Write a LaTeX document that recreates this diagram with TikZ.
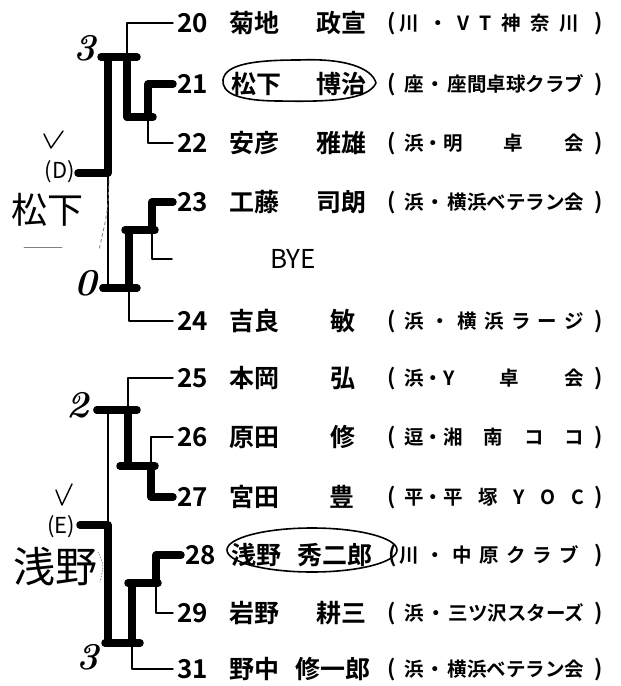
\documentclass[tikz,border=0pt]{standalone}
\usepackage{fontspec}
\newfontfamily\jpb{Noto Sans CJK JP Bold}
\newfontfamily\jpr{Noto Sans CJK JP}
\newcommand{\club}[1]{\makebox[180pt][l]{#1}}

\begin{document}
\begin{tikzpicture}[line cap=round,line join=round,x=1pt,y=-1pt,
	numtext/.style={anchor=base west,inner xsep=4pt,inner ysep=0pt,font=\jpb\fontsize{26}{26}\selectfont},
	nametext/.style={inner sep=0pt,font=\jpb\fontsize{25}{25}\selectfont},
	clubtext/.style={anchor=base west,inner sep=0pt,font=\jpb\fontsize{19.5}{19.5}\selectfont},
	parentext/.style={anchor=base,inner sep=0pt,font=\jpb\fontsize{22}{22}\selectfont},
	handtext/.style={inner sep=0pt,font=\bfseries\itshape\fontsize{38}{38}\selectfont},
	losebar/.style={line width=1.4pt},
	winbar/.style={line width=7.5pt}]
		\useasboundingbox (0,0) rectangle (621,686);
		% entries
		\node[numtext] (n20) at (173,32.5) {20};
		\node[nametext,anchor=base west] (s20) at (229,32.5) {菊地};
		\node[nametext,anchor=base east] (g20) at (367,32.5) {政宣};
		\node[parentext] (l20) at (392,30) {(};
		\node[clubtext] (c20) at (399,30) {\club{川\hfill・\hfill V\hfill T\hfill 神\hfill 奈\hfill 川}};
		\node[parentext] (r20) at (599,30) {)};
		\node[numtext] (n21) at (173,93.5) {21};
		\node[nametext,anchor=base west] (s21) at (231,93.5) {松下};
		\node[nametext,anchor=base east] (g21) at (367,93.5) {博治};
		\node[parentext] (l21) at (392,91) {(};
		\node[clubtext] (c21) at (404,91) {\club{座\hfill・\hfill 座間卓球クラブ}};
		\node[parentext] (r21) at (599,91) {)};
		\node[numtext] (n22) at (173,152.5) {22};
		\node[nametext,anchor=base west] (s22) at (229,152.5) {安彦};
		\node[nametext,anchor=base east] (g22) at (367,152.5) {雅雄};
		\node[parentext] (l22) at (392,150) {(};
		\node[clubtext] (c22) at (404,150) {\club{浜・明\hfill 卓\hfill 会}};
		\node[parentext] (r22) at (599,150) {)};
		\node[numtext] (n23) at (173,211.5) {23};
		\node[nametext,anchor=base west] (s23) at (229,211.5) {工藤};
		\node[nametext,anchor=base east] (g23) at (367,211.5) {司朗};
		\node[parentext] (l23) at (392,209) {(};
		\node[clubtext] (c23) at (404,209) {\club{浜\hfill・\hfill 横浜ベテラン会}};
		\node[parentext] (r23) at (599,209) {)};
		\node[anchor=base west,inner sep=0pt,font=\jpr\fontsize{26}{26}\selectfont] (bye) at (270,268.5) {BYE};
		\coordinate (nbye) at (172,259);
		\node[numtext] (n24) at (173,330.5) {24};
		\node[nametext,anchor=base west] (s24) at (229,330.5) {吉良};
		\node[nametext,anchor=base] (g24) at (343,330.5) {敏};
		\node[parentext] (l24) at (392,328) {(};
		\node[clubtext] (c24) at (404,328) {\club{浜\hfill・\hfill 横\hfill 浜\hfill ラ\hfill ー\hfill ジ}};
		\node[parentext] (r24) at (599,328) {)};
		\node[numtext] (n25) at (173,387.5) {25};
		\node[nametext,anchor=base west] (s25) at (229,387.5) {本岡};
		\node[nametext,anchor=base] (g25) at (343,387.5) {弘};
		\node[parentext] (l25) at (392,385) {(};
		\node[clubtext] (c25) at (404,385) {\club{浜・Y\hfill 卓\hfill 会}};
		\node[parentext] (r25) at (599,385) {)};
		\node[numtext] (n26) at (173,446.5) {26};
		\node[nametext,anchor=base west] (s26) at (229,446.5) {原田};
		\node[nametext,anchor=base] (g26) at (343,446.5) {修};
		\node[parentext] (l26) at (392,444) {(};
		\node[clubtext] (c26) at (404,444) {\club{逗・湘\hfill 南\hfill コ\hfill コ}};
		\node[parentext] (r26) at (599,444) {)};
		\node[numtext] (n27) at (173,506.5) {27};
		\node[nametext,anchor=base west] (s27) at (229,506.5) {宮田};
		\node[nametext,anchor=base] (g27) at (342,506.5) {豊};
		\node[parentext] (l27) at (392,504) {(};
		\node[clubtext] (c27) at (404,504) {\club{平・平\hfill 塚\hfill Y\hfill O\hfill C}};
		\node[parentext] (r27) at (599,504) {)};
		\node[numtext] (n28) at (181,564.5) {28};
		\node[nametext,anchor=base west] (s28) at (231,564.5) {浅野};
		\node[nametext,anchor=base east] (g28) at (373,564.5) {秀二郎};
		\node[parentext] (l28) at (393,562) {(};
		\node[clubtext] (c28) at (399,562) {\club{川\hfill・\hfill 中\hfill 原\hfill ク\hfill ラ\hfill ブ}};
		\node[parentext] (r28) at (599,562) {)};
		\node[numtext] (n29) at (173,622.5) {29};
		\node[nametext,anchor=base west] (s29) at (229,622.5) {岩野};
		\node[nametext,anchor=base east] (g29) at (367,622.5) {耕三};
		\node[parentext] (l29) at (392,620) {(};
		\node[clubtext] (c29) at (404,620) {\club{浜\hfill・\hfill 三ツ沢スターズ}};
		\node[parentext] (r29) at (599,620) {)};
		\node[numtext] (n31) at (173,678.5) {31};
		\node[nametext,anchor=base west] (s31) at (229,678.5) {野中};
		\node[nametext,anchor=base east] (g31) at (371,678.5) {修一郎};
		\node[parentext] (l31) at (392,676) {(};
		\node[clubtext] (c31) at (404,676) {\club{浜\hfill・\hfill 横浜ベテラン会}};
		\node[parentext] (r31) at (599,676) {)};
		% junctions
		\coordinate (r1a) at (148,117);
		\coordinate (r1b) at (152,230);
		\coordinate (r2a) at (127,57);
		\coordinate (r2b) at (129,288);
		\coordinate (r3a) at (108,173);
		\coordinate (wd) at (78,173);
		\coordinate (r1c) at (151,466);
		\coordinate (r1d) at (156,583);
		\coordinate (r2c) at (128,410);
		\coordinate (r2d) at (132,643);
		\coordinate (r3b) at (108,525);
		\coordinate (we) at (80,525);
		% thin lines
		\draw[losebar] (n20.west) -| (r2a);
		\draw[losebar] (n22.west) -| (r1a);
		\draw[losebar] (nbye) -| (r1b);
		\draw[losebar] (n24.west) -| (r2b);
		\draw[losebar] (r3a) -- (r3a |- r2b);
		\draw[losebar] (n25.west) -| (r2c);
		\draw[losebar] (n26.west) -| (r1c);
		\draw[losebar] (r3b |- r2c) -- (r3b);
		\draw[losebar] (n29.west) -| (r1d);
		\draw[losebar] (n31.west) -| (r2d);
		% thick lines
		\draw[winbar] (n21.west) -| (r1a) -| (r2a) -| (r3a) -- (wd);
		\draw[winbar] (n23.west) -| (r1b) -| (r2b) -- (103,288);
		\draw[winbar] (n27.west) -| (r1c) -| (r2c) -- (97,410);
		\draw[winbar] (n28.west) -| (r1d) -| (r2d) -| (r3b) -- (we);
		\draw[winbar] (101,57) -- (137,57);
		\draw[winbar] (127,117) -- (153,117);
		\draw[winbar] (125,230) -- (155,230);
		\draw[winbar] (103,288) -- (137,288);
		\draw[winbar] (97,410) -- (137,410);
		\draw[winbar] (120,466) -- (155,466);
		\draw[winbar] (128,583) -- (158,583);
		\draw[winbar] (105,643) -- (140,643);
		% handwriting
		\draw[line width=1.6pt] (299,60) .. controls (345,58) and (372,68) .. (376,83) .. controls (368,100) and (330,102) .. (280,101) .. controls (235,101) and (222,92) .. (223,80) .. controls (225,64) and (255,60) .. (299,60);
		\draw[line width=1.6pt] (312,550) ellipse [x radius=85pt,y radius=22pt];
		\node[handtext] (h1) at (85,48) {3};
		\node[handtext] (h2) at (86,283) {0};
		\node[handtext] (h3) at (78,405) {2};
		\node[handtext] (h4) at (88,657) {3};
		\node[inner sep=0pt,font=\jpr\fontsize{22}{22}\selectfont] (hd) at (60,172) {(D)};
		\node[inner sep=0pt,font=\jpr\fontsize{22}{22}\selectfont] (he) at (61,527) {(E)};
		\node[inner sep=0pt,font=\jpr\fontsize{36}{36}\selectfont] (hm) at (48,210) {松下};
		\node[inner sep=0pt,font=\jpr\fontsize{42}{42}\selectfont] (ha) at (55,567) {浅野};
		\draw[line width=1.4pt] (44,134) -- (51,148) -- (63,131);
		\draw[line width=1.4pt] (56,490) -- (62,505) -- (72,484);
		\draw[gray,dashed,line width=0.8pt] (109,180) .. controls (108,210) .. (99,250);
		\draw[gray,line width=0.8pt] (24,247) -- (62,247);
		\draw[gray,dotted,line width=0.8pt] (98,552) .. controls (104,565) .. (100,582);
\end{tikzpicture}
\end{document}
